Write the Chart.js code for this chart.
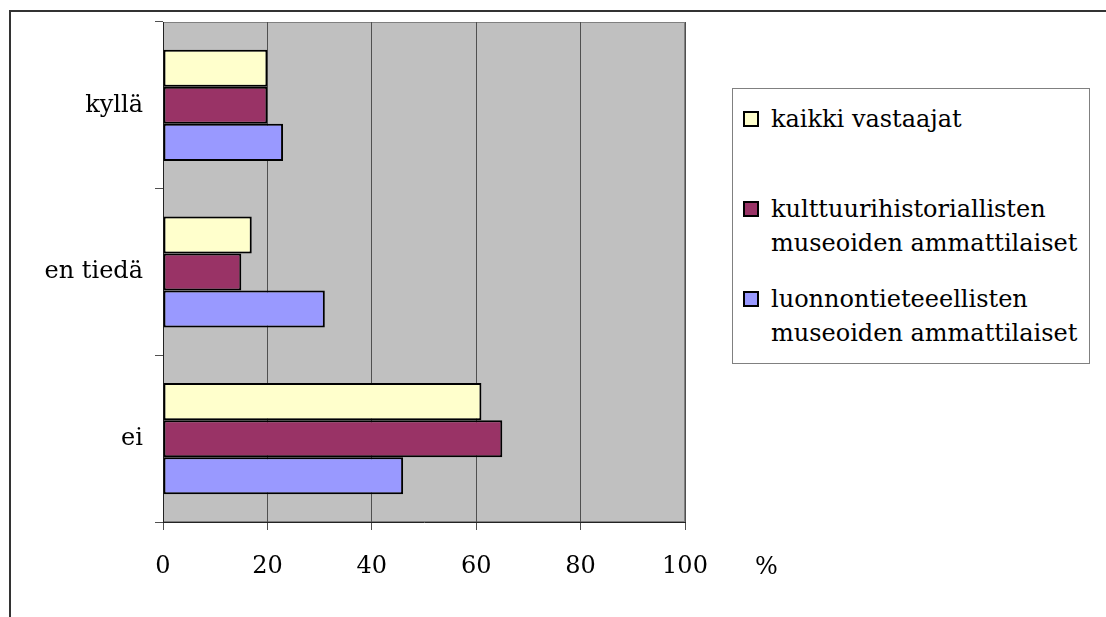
<!DOCTYPE html>
<html lang="fi">
<head>
<meta charset="UTF-8">
<title>kyllä / en tiedä / ei</title>
<script src="https://cdn.jsdelivr.net/npm/chart.js"></script>
<style>
    body {
        margin: 0;
        background: #ffffff;
        font-family: "DejaVu Serif", serif;
        overflow: hidden;
    }
    .wrap {
        position: relative;
        width: 1106px;
        height: 617px;
    }
    .frame {
        position: absolute;
        left: 9px;
        top: 10px;
        width: 1200px;
        height: 700px;
        border-left: 2px solid #333;
        border-top: 2px solid #333;
    }
    #chart {
        position: absolute;
        left: 0;
        top: 0;
    }
    .legend {
        position: absolute;
        left: 732px;
        top: 88px;
        width: 356px;
        height: 274px;
        border: 1px solid #808080;
        background: #fff;
    }
    .item {
        position: absolute;
        left: 10px;
        font-size: 24px;
        line-height: 34px;
        color: #000;
    }
    .item .box {
        position: absolute;
        left: 0;
        top: 9px;
        width: 12px;
        height: 12px;
        border: 2px solid #000;
    }
    .item .txt {
        margin-left: 28px;
        white-space: nowrap;
    }
    .unit {
        position: absolute;
        left: 755px;
        top: 551px;
        font-size: 24px;
        line-height: 30px;
    }
</style>
</head>
<body>
<div class="wrap">
    <div class="frame"></div>
    <canvas id="chart" width="1106" height="617"></canvas>
    <div class="legend" id="legend"></div>
    <div class="unit">%</div>
</div>

<script>
    const categories = ['kyllä', 'en tiedä', 'ei'];

    const seriesNames = [
        ['kaikki vastaajat'],
        ['kulttuurihistoriallisten', 'museoiden ammattilaiset'],
        ['luonnontieteeellisten', 'museoiden ammattilaiset']
    ];

    const kaikki = [20, 17, 61];
    const kulttuuri = [20, 15, 65];
    const luonnon = [23, 31, 46];

    const seriesColors = ['#FFFFCC', '#993366', '#9999FF'];

    const xTicks = [0, 20, 40, 60, 80, 100];

    // harmaa tausta piirtoalueelle
    const plotBackground = {
        id: 'plotBackground',
        beforeDraw(chart) {
            const a = chart.chartArea;
            const ctx = chart.ctx;
            ctx.save();
            ctx.fillStyle = '#C0C0C0';
            ctx.fillRect(a.left, a.top, a.right - a.left, a.bottom - a.top);
            ctx.strokeStyle = '#808080';
            ctx.lineWidth = 1;
            ctx.strokeRect(a.left + 0.5, a.top + 0.5, a.right - a.left - 1, a.bottom - a.top - 1);
            ctx.restore();
        }
    };

    const font = { family: '"DejaVu Serif", serif', size: 24 };

    new Chart(document.getElementById('chart'), {
        type: 'bar',
        data: {
            labels: categories,
            datasets: [kaikki, kulttuuri, luonnon].map((values, i) => ({
                label: seriesNames[i].join(' '),
                data: values,
                backgroundColor: seriesColors[i],
                borderColor: '#000',
                borderWidth: 2,
                borderSkipped: false,
                barPercentage: 1,
                categoryPercentage: 0.667
            }))
        },
        options: {
            indexAxis: 'y',
            responsive: false,
            animation: false,
            layout: {
                padding: { left: 0, top: 22, right: 421, bottom: 0 }
            },
            plugins: {
                legend: { display: false },
                tooltip: { enabled: false }
            },
            scales: {
                x: {
                    min: 0,
                    max: 100,
                    afterBuildTicks: scale => {
                        scale.ticks = xTicks.map(v => ({ value: v }));
                    },
                    afterFit: scale => {
                        scale.height = 95;
                        scale.paddingLeft = 0;
                        scale.paddingRight = 0;
                    },
                    grid: {
                        color: '#505050',
                        lineWidth: 1,
                        tickLength: 8
                    },
                    border: { color: '#222', width: 1 },
                    ticks: {
                        color: '#000',
                        font: font,
                        padding: 22,
                        maxRotation: 0
                    }
                },
                y: {
                    afterFit: scale => {
                        scale.width = 163;
                        scale.paddingTop = 0;
                        scale.paddingBottom = 0;
                    },
                    grid: {
                        drawOnChartArea: false,
                        color: '#505050',
                        tickLength: 8
                    },
                    border: { color: '#222', width: 1 },
                    ticks: {
                        color: '#000',
                        font: font,
                        padding: 12
                    }
                }
            }
        },
        plugins: [plotBackground]
    });

    // selite
    const legend = document.getElementById('legend');
    const itemTops = [13, 103, 193];
    seriesNames.forEach((lines, i) => {
        const item = document.createElement('div');
        item.className = 'item';
        item.style.top = itemTops[i] + 'px';
        const box = document.createElement('span');
        box.className = 'box';
        box.style.background = seriesColors[i];
        item.appendChild(box);
        const txt = document.createElement('div');
        txt.className = 'txt';
        txt.innerHTML = lines.join('<br>');
        item.appendChild(txt);
        legend.appendChild(item);
    });
</script>
</body>
</html>
